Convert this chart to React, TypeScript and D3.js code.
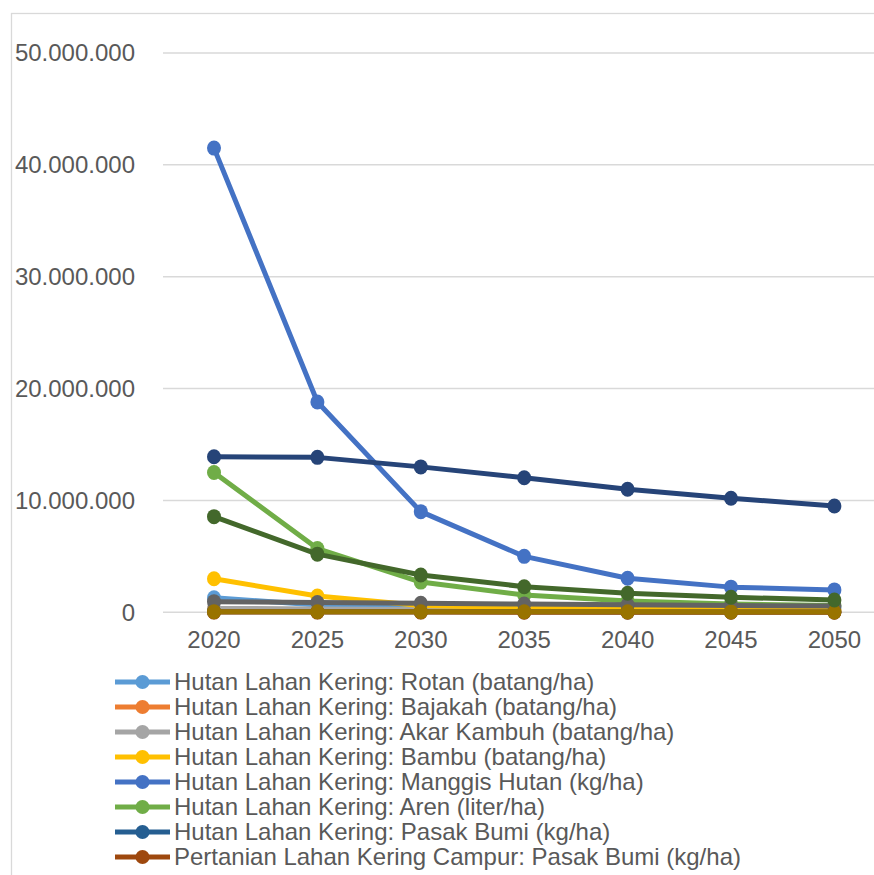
import React from "react";
import * as d3 from "d3";

// Projection years (category axis)
const years = ["2020", "2025", "2030", "2035", "2040", "2045", "2050"];

// Y axis ticks
const yTicks = [0, 10000000, 20000000, 30000000, 40000000, 50000000];

// Series values per year
const rotan = [1300000, 650000, 550000, 500000, 450000, 420000, 400000];
const bajakah = [250000, 150000, 120000, 100000, 90000, 80000, 70000];
const akarKambuh = [350000, 300000, 260000, 230000, 200000, 180000, 160000];
const bambu = [3000000, 1450000, 600000, 400000, 300000, 250000, 200000];
const manggisHutan = [41500000, 18800000, 9000000, 5000000, 3050000, 2250000, 2000000];
const aren = [12500000, 5700000, 2700000, 1550000, 1000000, 750000, 600000];
const pasakBumiHLK = [60000, 50000, 45000, 40000, 35000, 30000, 30000];
const pasakBumiPLKC = [20000, 18000, 16000, 14000, 12000, 10000, 10000];
const seriesNine = [950000, 880000, 800000, 740000, 670000, 610000, 560000];
const seriesTen = [60000, 55000, 50000, 45000, 40000, 35000, 30000];
const seriesEleven = [13900000, 13850000, 13000000, 12030000, 11000000, 10200000, 9500000];
const seriesTwelve = [8550000, 5200000, 3330000, 2290000, 1700000, 1340000, 1100000];

// Legend entries (the legend lists the first eight series)
const legendNames = [
  "Hutan Lahan Kering: Rotan (batang/ha)",
  "Hutan Lahan Kering: Bajakah (batang/ha)",
  "Hutan Lahan Kering: Akar Kambuh (batang/ha)",
  "Hutan Lahan Kering: Bambu (batang/ha)",
  "Hutan Lahan Kering: Manggis Hutan (kg/ha)",
  "Hutan Lahan Kering: Aren (liter/ha)",
  "Hutan Lahan Kering: Pasak Bumi (kg/ha)",
  "Pertanian Lahan Kering Campur: Pasak Bumi (kg/ha)",
];

const seriesValues = [
  rotan, bajakah, akarKambuh, bambu, manggisHutan, aren,
  pasakBumiHLK, pasakBumiPLKC, seriesNine, seriesTen, seriesEleven, seriesTwelve,
];

const seriesColors = [
  "#5B9BD5", "#ED7D31", "#A5A5A5", "#FFC000", "#4472C4", "#70AD47",
  "#255E91", "#9E480E", "#636363", "#997300", "#264478", "#43682B",
];

const W = 874;
const H = 875;
const FONT = "'Liberation Sans', Arial, sans-serif";
const TEXT = "#595959";
const FS = 24;

export default function App() {
  const step = 103.4;
  const x = d3
    .scalePoint<string>()
    .domain(years)
    .range([214, 214 + step * (years.length - 1)]);
  const y = d3.scaleLinear().domain([0, 50000000]).range([612.3, 53]);
  const fmt = (v: number) => d3.format(",")(v).replace(/,/g, ".");

  const line = d3
    .line<number>()
    .x((_, i) => x(years[i]) as number)
    .y((d) => y(d));

  const legendTop = 682;
  const legendStep = 25;

  return (
    <svg
      width={W}
      height={H}
      style={{ position: "absolute", left: 0, top: 0, background: "#fff" }}
      fontFamily={FONT}
    >
      <rect x={0} y={0} width={W} height={H} fill="#fff" />
      {/* chart frame */}
      <rect
        x={11.5}
        y={13.5}
        width={W + 20}
        height={H + 20}
        fill="none"
        stroke="#D9D9D9"
        strokeWidth={1.3}
      />
      {/* gridlines and y labels */}
      {yTicks.map((t) => (
        <g key={t}>
          <line
            x1={163}
            x2={W}
            y1={y(t)}
            y2={y(t)}
            stroke="#D9D9D9"
            strokeWidth={1.5}
          />
          <text
            x={135}
            y={y(t)}
            dy="0.35em"
            textAnchor="end"
            fontSize={FS}
            fill={TEXT}
          >
            {fmt(t)}
          </text>
        </g>
      ))}
      {/* x labels */}
      {years.map((yr) => (
        <text
          key={yr}
          x={x(yr) as number}
          y={640}
          dy="0.35em"
          textAnchor="middle"
          fontSize={FS}
          fill={TEXT}
        >
          {yr}
        </text>
      ))}
      {/* series lines and markers */}
      {seriesValues.map((vals, si) => (
        <g key={si}>
          <path
            d={line(vals) || ""}
            fill="none"
            stroke={seriesColors[si]}
            strokeWidth={5}
            strokeLinejoin="round"
          />
          {vals.map((v, i) => (
            <ellipse
              key={i}
              cx={x(years[i]) as number}
              cy={y(v)}
              rx={7}
              ry={7.5}
              fill={seriesColors[si]}
            />
          ))}
        </g>
      ))}
      {/* legend */}
      {legendNames.map((name, i) => {
        const ly = legendTop + i * legendStep;
        return (
          <g key={name}>
            <line
              x1={115}
              x2={170}
              y1={ly}
              y2={ly}
              stroke={seriesColors[i]}
              strokeWidth={5}
            />
            <circle cx={142.5} cy={ly} r={7} fill={seriesColors[i]} />
            <text x={174} y={ly} dy="0.35em" fontSize={FS} fill={TEXT}>
              {name}
            </text>
          </g>
        );
      })}
    </svg>
  );
}
